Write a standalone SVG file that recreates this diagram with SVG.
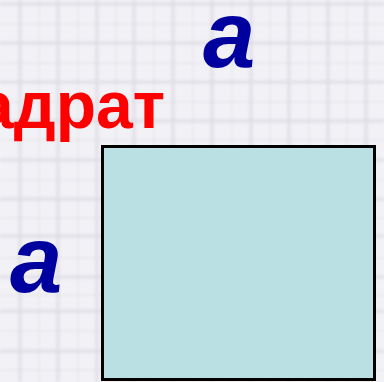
<svg xmlns="http://www.w3.org/2000/svg" width="384" height="382" viewBox="0 0 384 382">
<defs>
<filter id="blur" x="-5%" y="-5%" width="110%" height="110%"><feGaussianBlur stdDeviation="1.5"/></filter>
<style>
.bg{fill:#f2f1f6}
.grid line{stroke:#dfdee6;stroke-width:3}
.minor line{stroke:#e9e8ee;stroke-width:2}
.letter{font-family:"Liberation Sans",Arial,sans-serif;font-weight:bold;font-style:italic;fill:#00009e;font-size:94px}
.title{font-family:"Liberation Sans",Arial,sans-serif;font-weight:bold;fill:#ff0000;font-size:66px}
</style>
</defs>
<rect class="bg" x="0" y="0" width="384" height="382"/>
<g filter="url(#blur)">
<g class="minor">
<line x1="39" y1="0" x2="39" y2="382"/><line x1="78" y1="0" x2="78" y2="382"/><line x1="116" y1="0" x2="116" y2="382"/><line x1="154" y1="0" x2="154" y2="382"/><line x1="193" y1="0" x2="193" y2="382"/><line x1="232" y1="0" x2="232" y2="382"/><line x1="270" y1="0" x2="270" y2="382"/><line x1="309" y1="0" x2="309" y2="382"/><line x1="347" y1="0" x2="347" y2="382"/>
<line x1="0" y1="24" x2="384" y2="24"/><line x1="0" y1="63" x2="384" y2="63"/><line x1="0" y1="102" x2="384" y2="102"/><line x1="0" y1="140" x2="384" y2="140"/><line x1="0" y1="180" x2="384" y2="180"/><line x1="0" y1="218" x2="384" y2="218"/><line x1="0" y1="258" x2="384" y2="258"/><line x1="0" y1="295" x2="384" y2="295"/><line x1="0" y1="331" x2="384" y2="331"/><line x1="0" y1="370" x2="384" y2="370"/>
</g>
<g class="grid">
<line x1="20" y1="0" x2="20" y2="382"/><line x1="58" y1="0" x2="58" y2="382"/><line x1="97" y1="0" x2="97" y2="382"/><line x1="134" y1="0" x2="134" y2="382"/><line x1="173" y1="0" x2="173" y2="382"/><line x1="212" y1="0" x2="212" y2="382"/><line x1="251" y1="0" x2="251" y2="382"/><line x1="289" y1="0" x2="289" y2="382"/><line x1="328" y1="0" x2="328" y2="382"/><line x1="366" y1="0" x2="366" y2="382"/>
<line x1="0" y1="4" x2="384" y2="4"/><line x1="0" y1="43" x2="384" y2="43"/><line x1="0" y1="82" x2="384" y2="82"/><line x1="0" y1="121" x2="384" y2="121"/><line x1="0" y1="160" x2="384" y2="160"/><line x1="0" y1="199" x2="384" y2="199"/><line x1="0" y1="236" x2="384" y2="236"/><line x1="0" y1="277" x2="384" y2="277"/><line x1="0" y1="311" x2="384" y2="311"/><line x1="0" y1="351" x2="384" y2="351"/>
</g>
</g>
<g id="title"><text class="title" x="165" y="128" text-anchor="end">адрат</text></g>
<g id="label-top"><text class="letter" x="203" y="67">a</text></g>
<g id="label-left"><text class="letter" x="10" y="292">a</text></g>
<g id="square">
<rect x="104" y="148" width="272" height="233" fill="#000" opacity="0.12"/>
<rect x="102.5" y="146.5" width="272" height="233" fill="#bae0e3" stroke="#000" stroke-width="3"/>
</g>
<g id="connectors"/>
</svg>
